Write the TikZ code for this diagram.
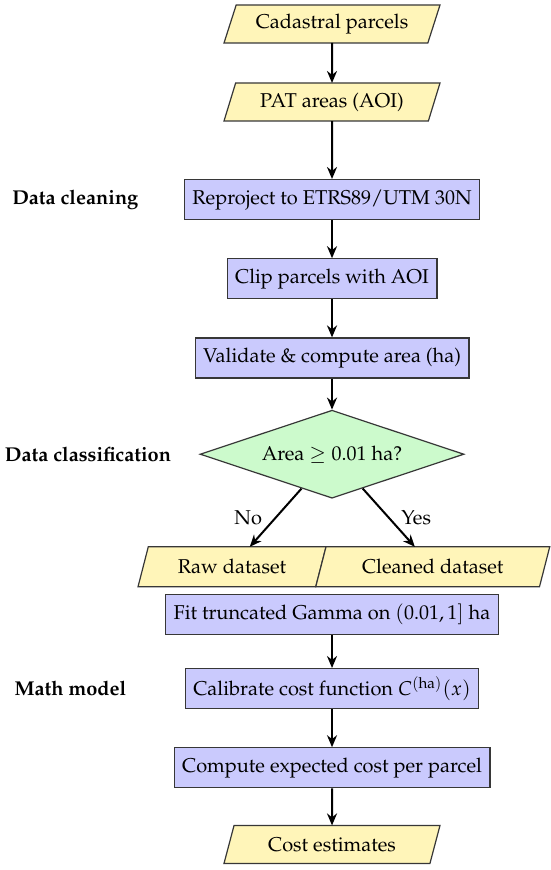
\documentclass[tikz,border=0pt]{standalone}
\usepackage[T1]{fontenc}
\usepackage{mathpazo}
\usetikzlibrary{shapes.geometric,arrows.meta,positioning}
\definecolor{iofill}{RGB}{255,245,185}
\definecolor{procfill}{RGB}{202,202,253}
\definecolor{decfill}{RGB}{204,250,204}
\definecolor{edgegray}{RGB}{55,55,55}

\begin{document}
\begin{tikzpicture}[
    node distance=19pt,
    procstep/.style={rectangle, draw=edgegray, line width=0.6pt, fill=procfill,
                 minimum height=20pt, inner xsep=4pt, align=center},
    iostep/.style={trapezium, trapezium left angle=70, trapezium right angle=110,
                 trapezium stretches body, draw=edgegray, line width=0.6pt, fill=iofill,
                 minimum height=19pt, minimum width=108pt, outer sep=0pt, align=center},
    decstep/.style={diamond, aspect=3, draw=edgegray, line width=0.6pt, fill=decfill,
                 minimum width=132pt, minimum height=44pt, inner sep=1pt},
    phase/.style={font=\bfseries, inner sep=0pt},
    arr/.style={-{Stealth[length=6pt, width=5pt]}, line width=1pt}
]
\useasboundingbox (0,0) rectangle (275pt,-435pt);
\node[iostep] (in1) at (166pt,-12pt) {Cadastral parcels};
\node[iostep, below=20pt of in1] (in2) {PAT areas (AOI)};
\node[procstep, below=29pt of in2] (p1) {Reproject to ETRS89/UTM 30N};
\node[procstep, below=of p1] (p2) {Clip parcels with AOI};
\node[procstep, below=of p2] (p3) {Validate \& compute area (ha)};
\node[decstep, below=15.5pt of p3] (dec) {Area $\geq 0.01$ ha?};
\node[iostep, minimum width=94pt, minimum height=20pt, below=24pt of dec, xshift=-50pt] (raw) {Raw dataset};
\node[iostep, minimum width=117pt, minimum height=20pt, anchor=bottom left corner] (clean) at (raw.bottom right corner) {Cleaned dataset};
\node[procstep, below=47.5pt of dec] (p4) {Fit truncated Gamma on $(0.01,1]$ ha};
\node[procstep, below=16.5pt of p4] (p5) {Calibrate cost function $C^{(\mathrm{ha})}(x)$};
\node[procstep, below=of p5] (p6) {Compute expected cost per parcel};
\node[iostep, below=18.5pt of p6] (out) {Cost estimates};
% phase labels
\node[phase, left=22.5pt of p1] (ph1) {Data cleaning};
\node[phase, left=14pt of dec] (ph2) {Data classification};
\node[phase, left=29pt of p5] (ph3) {Math model};
\foreach \a/\b in {in1/in2, in2/p1, p1/p2, p2/p3, p3/dec, p4/p5, p5/p6, p6/out}
    \draw[arr] (\a) -- (\b);
\draw[arr] (dec) -- (raw) node[midway, left, xshift=-3pt] {No};
\draw[arr] (dec) -- (clean) node[midway, right, xshift=2.5pt] {Yes};
\end{tikzpicture}
\end{document}
